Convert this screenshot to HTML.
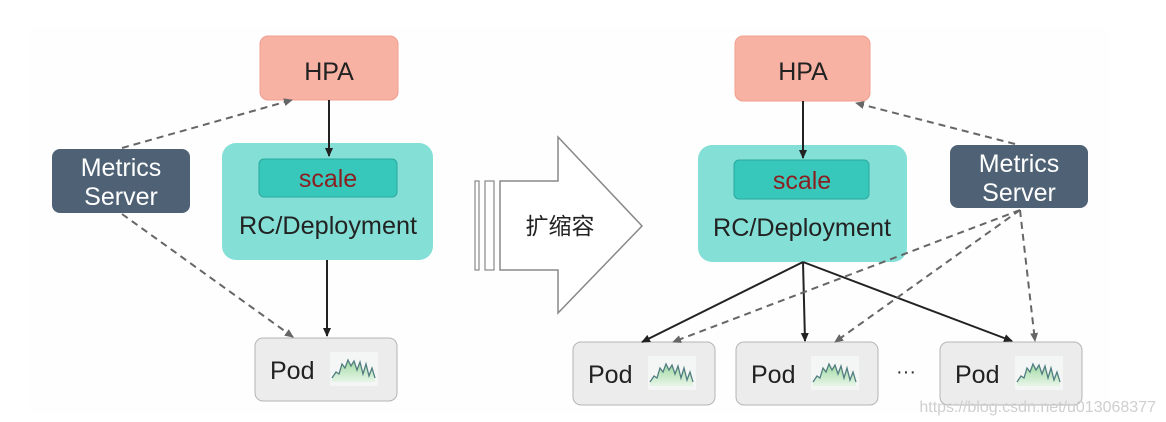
<!DOCTYPE html>
<html><head><meta charset="utf-8"><style>
html,body{margin:0;padding:0;background:#fff;}
svg{display:block;font-family:"Liberation Sans","Noto Sans CJK SC",sans-serif;}
</style></head><body>
<svg width="1166" height="422" viewBox="0 0 1166 422" xmlns="http://www.w3.org/2000/svg">
<defs>
<marker id="ah" markerWidth="10" markerHeight="10" refX="8" refY="5" orient="auto" markerUnits="userSpaceOnUse"><path d="M0,1 L9,5 L0,9 Z" fill="#222"/></marker>
<marker id="ad" markerWidth="10" markerHeight="10" refX="8" refY="5" orient="auto" markerUnits="userSpaceOnUse"><path d="M0,1 L9,5 L0,9 Z" fill="#666"/></marker>
<linearGradient id="g" x1="0" y1="0" x2="0" y2="1"><stop offset="0" stop-color="#9fd9a0"/><stop offset="1" stop-color="#e8f5e8"/></linearGradient>
<g id="spark">
<rect x="0" y="0" width="48" height="34" fill="#f4f6f6"/>
<path d="M2,26 L6,20 L9,22 L12,12 L15,16 L18,8 L21,14 L24,9 L27,18 L30,10 L33,22 L36,12 L39,24 L42,16 L45,26 L45,30 L2,30 Z" fill="url(#g)"/>
<path d="M2,26 L6,20 L9,22 L12,12 L15,16 L18,8 L21,14 L24,9 L27,18 L30,10 L33,22 L36,12 L39,24 L42,16 L45,26" fill="none" stroke="#4f7d80" stroke-width="1.3"/>
</g>
</defs>
<rect width="1166" height="422" fill="#fff"/>
<rect x="30" y="26" width="1080" height="388" fill="#fefefe"/>

<!-- LEFT -->
<rect x="260" y="36" width="138" height="64" rx="8" fill="#f7b2a3" stroke="#f0a090"/>
<text x="329" y="80" font-size="25" text-anchor="middle" fill="#222">HPA</text>
<rect x="222" y="143" width="211" height="117" rx="14" fill="#84e0d7"/>
<rect x="259" y="159" width="138" height="38" rx="5" fill="#38c7bb" stroke="#2aa99e"/>
<text x="328" y="187" font-size="25" text-anchor="middle" fill="#8b1f1f">scale</text>
<text x="328" y="234" font-size="25" text-anchor="middle" fill="#222" textLength="178" lengthAdjust="spacingAndGlyphs">RC/Deployment</text>
<rect x="52" y="149" width="138" height="64" rx="8" fill="#4f6275"/>
<text x="121" y="176" font-size="25" text-anchor="middle" fill="#fff">Metrics</text>
<text x="121" y="205" font-size="25" text-anchor="middle" fill="#fff">Server</text>
<rect x="255" y="338" width="142" height="63" rx="8" fill="#ececec" stroke="#b5b5b5"/>
<text x="270" y="379" font-size="25" fill="#222">Pod</text>
<use href="#spark" x="330" y="352"/>
<line x1="329" y1="100" x2="329" y2="156" stroke="#222" stroke-width="2" marker-end="url(#ah)"/>
<line x1="327" y1="260" x2="327" y2="336" stroke="#222" stroke-width="2" marker-end="url(#ah)"/>
<line x1="122" y1="148" x2="292" y2="100" stroke="#666" stroke-width="2" stroke-dasharray="7,5" marker-end="url(#ad)"/>
<line x1="122" y1="214" x2="293" y2="337" stroke="#666" stroke-width="2" stroke-dasharray="7,5" marker-end="url(#ad)"/>

<!-- BIG ARROW -->
<rect x="475" y="181" width="4" height="89" fill="none" stroke="#888" stroke-width="1.2"/>
<rect x="485" y="181" width="9" height="89" fill="none" stroke="#888" stroke-width="1.2"/>
<path d="M500,181 L558,181 L558,137 L642,226 L558,313 L558,270 L500,270 Z" fill="#fff" stroke="#888" stroke-width="1.5"/>
<text x="560" y="234" font-size="23" text-anchor="middle" fill="#222">扩缩容</text>

<!-- RIGHT -->
<rect x="735" y="36" width="135" height="65" rx="8" fill="#f7b2a3" stroke="#f0a090"/>
<text x="803" y="80" font-size="25" text-anchor="middle" fill="#222">HPA</text>
<rect x="698" y="145" width="209" height="117" rx="14" fill="#84e0d7"/>
<rect x="734" y="160" width="135" height="39" rx="5" fill="#38c7bb" stroke="#2aa99e"/>
<text x="802" y="189" font-size="25" text-anchor="middle" fill="#8b1f1f">scale</text>
<text x="802" y="236" font-size="25" text-anchor="middle" fill="#222" textLength="178" lengthAdjust="spacingAndGlyphs">RC/Deployment</text>
<rect x="950" y="145" width="138" height="63" rx="8" fill="#4f6275"/>
<text x="1019" y="172" font-size="25" text-anchor="middle" fill="#fff">Metrics</text>
<text x="1019" y="201" font-size="25" text-anchor="middle" fill="#fff">Server</text>

<rect x="573" y="342" width="142" height="63" rx="8" fill="#ececec" stroke="#b5b5b5"/>
<text x="588" y="383" font-size="25" fill="#222">Pod</text>
<use href="#spark" x="648" y="356"/>
<rect x="736" y="342" width="142" height="63" rx="8" fill="#ececec" stroke="#b5b5b5"/>
<text x="751" y="383" font-size="25" fill="#222">Pod</text>
<use href="#spark" x="811" y="356"/>
<text x="906" y="378" font-size="20" text-anchor="middle" fill="#333">···</text>
<rect x="940" y="342" width="142" height="63" rx="8" fill="#ececec" stroke="#b5b5b5"/>
<text x="955" y="383" font-size="25" fill="#222">Pod</text>
<use href="#spark" x="1015" y="356"/>

<line x1="803" y1="101" x2="803" y2="158" stroke="#222" stroke-width="2" marker-end="url(#ah)"/>
<line x1="803" y1="262" x2="642" y2="342" stroke="#222" stroke-width="2" marker-end="url(#ah)"/>
<line x1="803" y1="262" x2="805" y2="341" stroke="#222" stroke-width="2" marker-end="url(#ah)"/>
<line x1="803" y1="262" x2="1012" y2="341" stroke="#222" stroke-width="2" marker-end="url(#ah)"/>
<line x1="1015" y1="144" x2="856" y2="103" stroke="#666" stroke-width="2" stroke-dasharray="7,5" marker-end="url(#ad)"/>
<line x1="1020" y1="210" x2="673" y2="342" stroke="#666" stroke-width="2" stroke-dasharray="7,5" marker-end="url(#ad)"/>
<line x1="1020" y1="210" x2="835" y2="342" stroke="#666" stroke-width="2" stroke-dasharray="7,5" marker-end="url(#ad)"/>
<line x1="1020" y1="210" x2="1035" y2="341" stroke="#666" stroke-width="2" stroke-dasharray="7,5" marker-end="url(#ad)"/>

<text x="1156" y="412" font-size="16" text-anchor="end" fill="#cfcfcf">https://blog.csdn.net/u013068377</text>
</svg>
</body></html>
